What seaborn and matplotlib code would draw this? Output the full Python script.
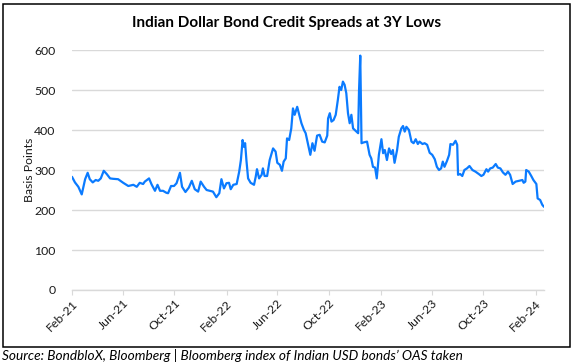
import pandas as pd
import matplotlib
matplotlib.use("Agg")
import matplotlib.pyplot as plt
import matplotlib.dates as mdates
from matplotlib.patches import Rectangle
import seaborn as sns

# Data (OAS, basis points)
dates = [
    "2021-02-01", "2021-02-08", "2021-02-16", "2021-02-24", "2021-02-28", "2021-03-04",
    "2021-03-10", "2021-03-15", "2021-03-22", "2021-03-29", "2021-04-04", "2021-04-10",
    "2021-04-17", "2021-04-24", "2021-05-02", "2021-05-09", "2021-05-21", "2021-06-02",
    "2021-06-14", "2021-06-26", "2021-07-04", "2021-07-11", "2021-07-19", "2021-07-23",
    "2021-08-02", "2021-08-08", "2021-08-16", "2021-08-22", "2021-08-28", "2021-09-04",
    "2021-09-12", "2021-09-16", "2021-09-23", "2021-09-30", "2021-10-06", "2021-10-14",
    "2021-10-19", "2021-10-27", "2021-11-04", "2021-11-11", "2021-11-18", "2021-11-26",
    "2021-12-02", "2021-12-10", "2021-12-16", "2021-12-24", "2021-12-31", "2022-01-08",
    "2022-01-15", "2022-01-20", "2022-01-26", "2022-02-01", "2022-02-07", "2022-02-11",
    "2022-02-17", "2022-02-25", "2022-03-03", "2022-03-07", "2022-03-11", "2022-03-14",
    "2022-03-17", "2022-03-20", "2022-03-24", "2022-03-30", "2022-04-07", "2022-04-11",
    "2022-04-14", "2022-04-19", "2022-04-25", "2022-04-28", "2022-05-02", "2022-05-08",
    "2022-05-14", "2022-05-22", "2022-05-28", "2022-06-01", "2022-06-07", "2022-06-12",
    "2022-06-16", "2022-06-21", "2022-06-24", "2022-06-29", "2022-07-04", "2022-07-08",
    "2022-07-12", "2022-07-18", "2022-07-22", "2022-07-28", "2022-08-03", "2022-08-07",
    "2022-08-13", "2022-08-18", "2022-08-23", "2022-08-28", "2022-09-03", "2022-09-09",
    "2022-09-15", "2022-09-21", "2022-09-27", "2022-09-29", "2022-10-03", "2022-10-07",
    "2022-10-12", "2022-10-17", "2022-10-22", "2022-10-26", "2022-10-30", "2022-11-03",
    "2022-11-07", "2022-11-11", "2022-11-15", "2022-11-19", "2022-11-23", "2022-11-27",
    "2022-12-05", "2022-12-09", "2022-12-11", "2022-12-14", "2022-12-17", "2022-12-22",
    "2022-12-30", "2023-01-05", "2023-01-09", "2023-01-13", "2023-01-18", "2023-01-22",
    "2023-01-27", "2023-02-02", "2023-02-06", "2023-02-10", "2023-02-15", "2023-02-20",
    "2023-02-25", "2023-03-01", "2023-03-05", "2023-03-11", "2023-03-15", "2023-03-21",
    "2023-03-25", "2023-03-29", "2023-04-02", "2023-04-08", "2023-04-14", "2023-04-19",
    "2023-04-24", "2023-04-29", "2023-05-03", "2023-05-10", "2023-05-15", "2023-05-21",
    "2023-05-27", "2023-06-02", "2023-06-08", "2023-06-13", "2023-06-18", "2023-06-23",
    "2023-06-27", "2023-07-01", "2023-07-07", "2023-07-12", "2023-07-15", "2023-07-21",
    "2023-07-27", "2023-07-31", "2023-08-02", "2023-08-07", "2023-08-12", "2023-08-17",
    "2023-08-23", "2023-08-29", "2023-09-05", "2023-09-12", "2023-09-20", "2023-09-26",
    "2023-10-01", "2023-10-08", "2023-10-12", "2023-10-17", "2023-10-23", "2023-10-30",
    "2023-11-04", "2023-11-10", "2023-11-16", "2023-11-22", "2023-11-28", "2023-12-03",
    "2023-12-09", "2023-12-16", "2023-12-24", "2024-01-01", "2024-01-04", "2024-01-08",
    "2024-01-10", "2024-01-16", "2024-01-22", "2024-01-27", "2024-02-03", "2024-02-06",
    "2024-02-12", "2024-02-17", "2024-02-21",
]
spreads = [
    283, 269, 258, 239, 258, 277,
    293, 277, 269, 275, 273, 279,
    298, 290, 279, 278, 277, 268,
    260, 263, 258, 268, 265, 271,
    279, 264, 248, 263, 248, 248,
    243, 242, 260, 260, 267, 293,
    258, 245, 256, 273, 252, 246,
    271, 258, 250, 248, 246, 232,
    242, 277, 254, 267, 268, 252,
    263, 265, 296, 325, 375, 358,
    367, 325, 279, 268, 263, 283,
    302, 279, 288, 304, 285, 285,
    325, 354, 346, 318, 313, 298,
    321, 329, 379, 375, 404, 454,
    438, 458, 442, 417, 400, 392,
    363, 338, 367, 348, 386, 388,
    371, 369, 386, 429, 442, 421,
    425, 438, 475, 508, 500, 521,
    513, 492, 442, 417, 438, 404,
    396, 392, 496, 586, 367, 369,
    371, 338, 329, 308, 306, 279,
    338, 377, 342, 350, 325, 354,
    340, 350, 318, 350, 383, 404,
    410, 396, 408, 400, 371, 367,
    377, 365, 371, 365, 367, 363,
    343, 338, 327, 308, 300, 304,
    321, 308, 323, 338, 365, 363,
    373, 363, 288, 290, 285, 300,
    304, 310, 300, 296, 290, 285,
    288, 302, 296, 304, 306, 315,
    306, 304, 294, 288, 296, 288,
    265, 271, 273, 275, 268, 271,
    300, 296, 285, 275, 265, 229,
    225, 213, 208,
]

title = "Indian Dollar Bond Credit Spreads at 3Y Lows"
ylabel = "Basis Points"
source = "Source: BondbloX, Bloomberg | Bloomberg index of Indian USD bonds\u2019 OAS taken"

df = pd.DataFrame({"date": pd.to_datetime(dates), "spread": spreads})

sns.set_style("white")
plt.rcParams["font.family"] = ["Lato", "DejaVu Sans"]

fig = plt.figure(figsize=(5.76, 3.64), dpi=100)
ax = fig.add_axes([0.125, 0.2033, 0.8194, 0.6593])

sns.lineplot(data=df, x="date", y="spread", ax=ax, color="#0B7BFF", linewidth=1.6)

ax.set_ylim(0, 600)
ax.set_yticks(range(0, 601, 100))
ax.set_xlim(pd.Timestamp("2021-02-01"), df["date"].max())
ax.xaxis.set_major_locator(mdates.MonthLocator(bymonth=[2, 6, 10]))
ax.xaxis.set_major_formatter(mdates.DateFormatter("%b-%y"))

ax.grid(axis="y", color="#d9d9d9", linewidth=1)
ax.grid(axis="x", visible=False)
for s in ["top", "right", "left"]:
    ax.spines[s].set_visible(False)
ax.spines["bottom"].set_color("#d9d9d9")
ax.spines["bottom"].set_linewidth(1)

ax.tick_params(axis="y", length=0, pad=12, labelsize=8.8, labelcolor="#1a1a1a")
ax.tick_params(axis="x", length=3.5, width=0.8, color="#d9d9d9", pad=2,
               labelsize=8.8, labelcolor="#1a1a1a", bottom=True)
for lab in ax.get_xticklabels():
    lab.set_rotation(45)
    lab.set_ha("right")
    lab.set_rotation_mode("anchor")

ax.set_xlabel("")
ax.set_ylabel(ylabel, fontsize=8.8, color="#1a1a1a", labelpad=-1)

fig.text(0.498, 0.937, title, ha="center", va="center", fontsize=11, fontweight="bold", color="#000000")
fig.text(0.004, 0.022, source, ha="left", va="center", fontsize=9.8, style="italic", color="#000000")

fig.patches.append(Rectangle((3 / 576, 1 - 347 / 364), 567 / 576, 343 / 364,
                             transform=fig.transFigure, fill=False,
                             edgecolor="black", linewidth=1.1))

fig.savefig("out.png", dpi=100)
